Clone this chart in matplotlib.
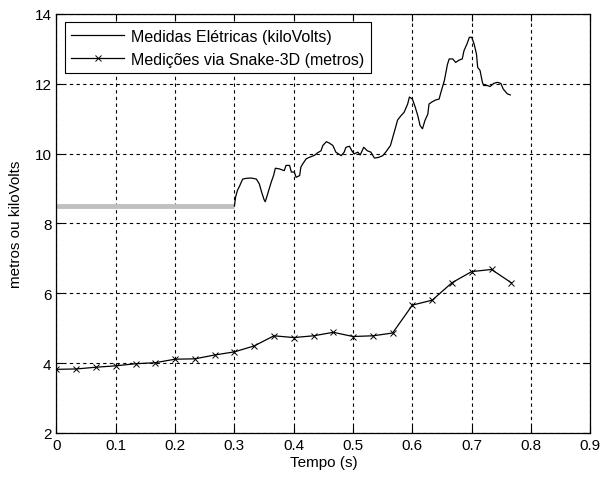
import matplotlib
matplotlib.use('Agg')
import matplotlib.pyplot as plt

plt.rcParams['font.family'] = ['Liberation Sans', 'DejaVu Sans']
plt.rcParams['font.size'] = 11

# measured electrical signal (kiloVolts), starts at t=0.3
t_elec = [0.300, 0.302, 0.305, 0.309, 0.314, 0.320, 0.328, 0.337, 0.342, 0.346,
          0.350, 0.352, 0.356, 0.362, 0.366, 0.369, 0.376, 0.384, 0.387, 0.393,
          0.396, 0.401, 0.404, 0.410, 0.412, 0.415, 0.421, 0.426, 0.435, 0.440,
          0.446, 0.449, 0.455, 0.460, 0.466, 0.471, 0.480, 0.485, 0.488, 0.494,
          0.498, 0.502, 0.508, 0.512, 0.518, 0.524, 0.530, 0.536, 0.543, 0.550,
          0.555, 0.563, 0.567, 0.571, 0.575, 0.581, 0.586, 0.592, 0.595, 0.600,
          0.604, 0.609, 0.613, 0.617, 0.621, 0.626, 0.628, 0.634, 0.640, 0.645,
          0.648, 0.654, 0.659, 0.662, 0.668, 0.673, 0.679, 0.684, 0.687, 0.692,
          0.696, 0.700, 0.704, 0.708, 0.710, 0.714, 0.718, 0.720, 0.726, 0.731,
          0.737, 0.743, 0.749, 0.753, 0.760, 0.765]
v_elec = [8.50, 8.75, 8.94, 9.08, 9.27, 9.29, 9.30, 9.27, 9.13, 8.89,
          8.68, 8.62, 8.84, 9.18, 9.37, 9.58, 9.56, 9.51, 9.66, 9.66,
          9.47, 9.47, 9.32, 9.37, 9.61, 9.70, 9.85, 9.89, 9.95, 10.02,
          10.08, 10.23, 10.34, 10.30, 10.23, 10.04, 9.94, 10.04, 10.18, 10.21,
          10.08, 9.99, 10.04, 9.96, 10.18, 10.08, 10.04, 9.87, 9.89, 9.94,
          10.04, 10.23, 10.47, 10.71, 10.96, 11.09, 11.18, 11.42, 11.62, 11.56,
          11.37, 11.09, 10.80, 10.71, 10.94, 11.13, 11.42, 11.49, 11.54, 11.56,
          11.75, 12.10, 12.55, 12.71, 12.71, 12.61, 12.68, 12.71, 12.95, 13.14,
          13.33, 13.33, 13.14, 12.85, 12.47, 12.38, 12.04, 11.95, 11.95, 11.92,
          12.01, 12.04, 12.01, 11.85, 11.71, 11.68]

# baseline before the signal
t_base = [0.0, 0.3]
v_base = [8.5, 8.5]

# Snake-3D measurements (metros), one per frame (30 fps)
frames = list(range(24))
v_snake = [3.82, 3.83, 3.88, 3.92, 3.98, 4.01, 4.11, 4.12, 4.23, 4.32,
           4.49, 4.78, 4.73, 4.78, 4.88, 4.76, 4.78, 4.86, 5.66, 5.80,
           6.30, 6.62, 6.68, 6.30]
t_snake = [k / 30 for k in frames]

fig = plt.figure(figsize=(6, 4.81), dpi=100)
ax = fig.add_axes([0.094, 0.098, 0.890, 0.871])

ax.plot(t_base, v_base, color='#c0c0c0', linewidth=3.5, solid_capstyle='butt')
l1, = ax.plot(t_elec, v_elec, color='k', linewidth=0.9)
l2, = ax.plot(t_snake, v_snake, color='k', linewidth=0.9, marker='x',
              markersize=4.5, markeredgewidth=0.7)

ax.set_xlim(0, 0.9)
ax.set_ylim(2, 14)
ax.set_xticks([0, 0.1, 0.2, 0.3, 0.4, 0.5, 0.6, 0.7, 0.8, 0.9])
ax.set_xticklabels(['0', '0.1', '0.2', '0.3', '0.4', '0.5', '0.6', '0.7', '0.8', '0.9'])
ax.set_yticks([2, 4, 6, 8, 10, 12, 14])
ax.tick_params(direction='in', top=True, right=True, length=5, width=0.8,
               labelsize=11)
ax.tick_params(axis='x', pad=4)
ax.grid(True, color='k', linestyle=(0, (3, 3)), linewidth=0.8)
for s in ax.spines.values():
    s.set_linewidth(0.9)

ax.set_xlabel('Tempo (s)', labelpad=2)
ax.set_ylabel('metros ou kiloVolts', labelpad=8)

leg = ax.legend([l1, l2], ['Medidas Elétricas (kiloVolts)', 'Medições via Snake-3D (metros)'],
                loc='upper left', bbox_to_anchor=(0.016, 0.98), fancybox=False,
                framealpha=1, edgecolor='k', handlelength=3.3, handletextpad=0.45,
                labelspacing=0.5, borderpad=0.4, borderaxespad=0, fontsize=11.5)
leg.get_frame().set_linewidth(0.8)

fig.savefig('out.png', dpi=100)
